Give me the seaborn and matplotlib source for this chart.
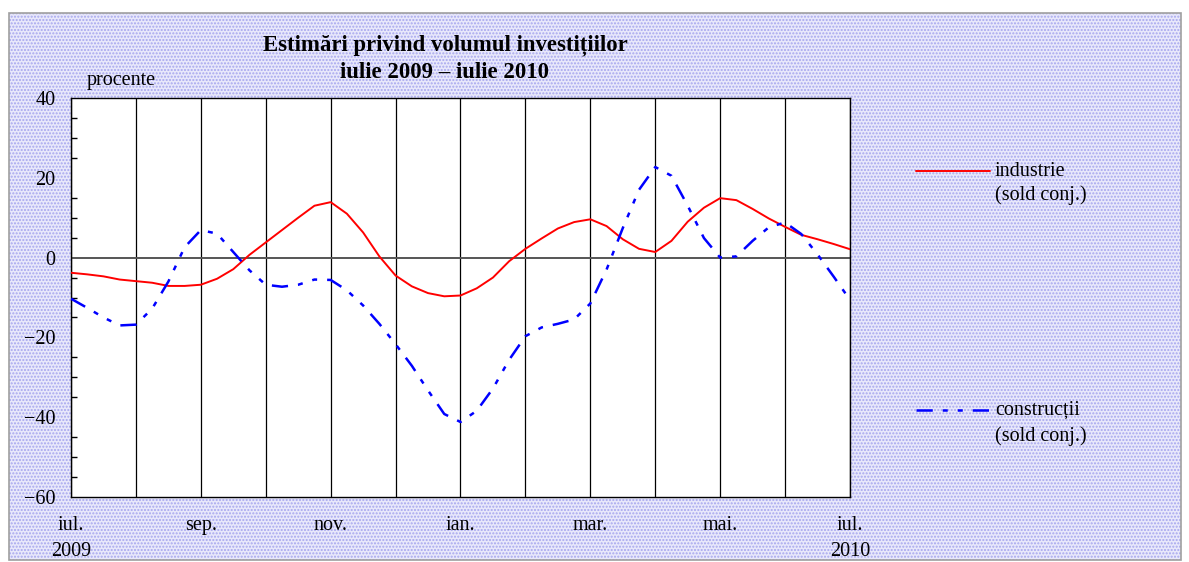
import numpy as np
import pandas as pd
import matplotlib.pyplot as plt
import seaborn as sns
from matplotlib.lines import Line2D
from matplotlib.patches import Rectangle
from matplotlib.ticker import MultipleLocator

# luni de la iulie 2009 (0) la iulie 2010 (12), citite din grafic la sfert de luna
luni = [i / 4 for i in range(49)]

industrie = [-3.8, -4.2, -4.7, -5.5, -5.9, -6.3, -7.1, -7.1, -6.8, -5.3, -2.9, 0.7,
             3.8, 6.9, 10.0, 13.0, 13.9, 11.0, 6.3, 0.3, -4.5, -7.2, -8.9, -9.7,
             -9.5, -7.7, -5.0, -0.9, 2.2, 4.8, 7.3, 8.9, 9.6, 7.9, 4.6, 2.2,
             1.4, 4.2, 9.0, 12.5, 14.9, 14.4, 12.2, 9.8, 7.7, 5.7, 4.6, 3.4, 2.1]

constructii = [-10.3, -12.6, -15.0, -17.0, -16.8, -12.8, -6.0, 2.6, 6.9, 6.0, 1.4, -3.2,
               -6.8, -7.3, -6.8, -5.5, -5.6, -8.2, -12.0, -16.6, -21.7, -27.1, -33.3, -39.2,
               -41.2, -38.4, -32.8, -25.6, -19.7, -17.5, -16.6, -15.5, -11.5, -3.0, 7.4, 17.0,
               22.7, 20.5, 13.0, 4.9, 0.0, 0.3, 4.2, 7.6, 8.8, 5.9, 0.8, -4.8, -10.6]

tick_pos = [0, 2, 4, 6, 8, 10, 12]
tick_labels = ['iul.\n2009', 'sep.', 'nov.', 'ian.', 'mar.', 'mai.', 'iul.\n2010']

df = pd.DataFrame({'luna': luni, 'industrie': industrie, 'constructii': constructii})

sns.set_style("white")
plt.rcParams['font.family'] = ['Liberation Serif', 'DejaVu Serif']
plt.rcParams['text.color'] = 'black'
plt.rcParams['xtick.color'] = 'black'
plt.rcParams['ytick.color'] = 'black'
plt.rcParams['hatch.linewidth'] = 1.0

W, H = 1189, 562
FS = 14.5
fig = plt.figure(figsize=(W / 100, H / 100), dpi=100)
fig.patch.set_facecolor('white')

# fundalul punctat
bg = Rectangle((9 / W, 2 / H), 1172 / W, (H - 15) / H, transform=fig.transFigure,
               facecolor='#e8e8fb', edgecolor='#a6a6ee', lw=0, hatch='.....', zorder=-10)
fig.patches.append(bg)
frame = Rectangle((9 / W, 2 / H), 1172 / W, (H - 15) / H, transform=fig.transFigure,
                  facecolor='none', edgecolor='#a0a0a0', lw=1.2, zorder=-9)
fig.patches.append(frame)

ax = fig.add_axes([71 / W, (H - 497) / H, 779 / W, 399 / H])
ax.set_facecolor('white')

# linii verticale lunare
for m in range(13):
    ax.axvline(m, color='black', lw=0.9, zorder=1)
ax.axhline(0, color='#555555', lw=1.4, zorder=1)

dash = (6.5, 4.0, 2.0, 4.0, 2.0, 4.0)
sns.lineplot(data=df, x='luna', y='industrie', color='red', lw=1.4, ax=ax, zorder=3)
sns.lineplot(data=df, x='luna', y='constructii', color='blue', lw=1.8, ax=ax, zorder=4)
ax.lines[-1].set_dashes(dash)

ax.set_xlim(0, 12)
ax.set_ylim(-60, 40)
ax.set_xticks(tick_pos)
ax.set_xticklabels(tick_labels, fontsize=FS, linespacing=1.5)
ax.yaxis.set_major_locator(MultipleLocator(20))
ax.yaxis.set_minor_locator(MultipleLocator(5))
ax.tick_params(axis='x', length=0, pad=14)
ax.tick_params(axis='y', which='major', length=4, width=1, direction='out', pad=7, labelsize=FS)
ax.tick_params(axis='y', which='minor', length=4, width=1, direction='in', left=True)
ax.set_xlabel('')
ax.set_ylabel('')
for s in ax.spines.values():
    s.set_color('black')
    s.set_linewidth(1.0)

fig.text(445 / W, 1 - 45 / H, 'Estimări privind volumul investițiilor', ha='center', va='center',
         fontsize=16.4, fontweight='bold')
fig.text(445 / W, 1 - 73 / H, 'iulie 2009 – iulie 2010', ha='center', va='center',
         fontsize=16.4, fontweight='bold')
fig.text(87 / W, 1 - 80 / H, 'procente', ha='left', va='center', fontsize=FS)

# legenda
fig.add_artist(Line2D([916 / W, 990 / W], [1 - 171 / H, 1 - 171 / H], color='red', lw=1.4,
                      transform=fig.transFigure))
fig.text(995 / W, 1 - 171 / H, 'industrie', ha='left', va='center', fontsize=FS)
fig.text(995 / W, 1 - 195 / H, '(sold conj.)', ha='left', va='center', fontsize=FS)
leg2 = Line2D([916 / W, 990 / W], [1 - 410 / H, 1 - 410 / H], color='blue', lw=1.8,
              transform=fig.transFigure)
leg2.set_dashes(dash)
fig.add_artist(leg2)
fig.text(995 / W, 1 - 410 / H, 'construcții', ha='left', va='center', fontsize=FS)
fig.text(995 / W, 1 - 436 / H, '(sold conj.)', ha='left', va='center', fontsize=FS)

fig.savefig('out.png', dpi=100)
